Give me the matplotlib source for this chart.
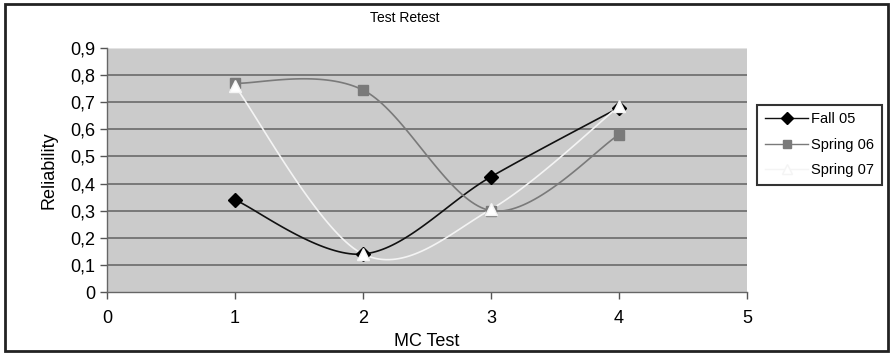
import numpy as np
import matplotlib
matplotlib.use("Agg")
import matplotlib.pyplot as plt
from matplotlib.patches import Rectangle

# ---- data ----
mc_test = [1, 2, 3, 4]
fall05 = [0.34, 0.14, 0.425, 0.68]
spring06 = [0.77, 0.745, 0.30, 0.58]
spring07 = [0.76, 0.14, 0.305, 0.685]
series_names = ["Fall 05", "Spring 06", "Spring 07"]
y_ticks = [0, 0.1, 0.2, 0.3, 0.4, 0.5, 0.6, 0.7, 0.8, 0.9]
x_ticks = [0, 1, 2, 3, 4, 5]

plt.rcParams['font.family'] = ['Liberation Sans', 'DejaVu Sans']


def smooth(xs, ys, n=40):
    """Excel-like smoothed line: cubic Bezier with Catmull-Rom control points."""
    P = np.column_stack([xs, ys]).astype(float)
    P = np.vstack([P[0], P, P[-1]])
    out = []
    for i in range(1, len(P) - 2):
        p0, p1, p2, p3 = P[i - 1], P[i], P[i + 1], P[i + 2]
        c1 = p1 + (p2 - p0) / 6.0
        c2 = p2 - (p3 - p1) / 6.0
        t = np.linspace(0, 1, n)[:, None]
        seg = ((1 - t) ** 3) * p1 + 3 * ((1 - t) ** 2) * t * c1 + 3 * (1 - t) * t ** 2 * c2 + t ** 3 * p2
        out.append(seg if i == 1 else seg[1:])
    out = np.vstack(out)
    return out[:, 0], out[:, 1]


fig = plt.figure(figsize=(8.9, 3.53), dpi=100)
fig.patch.set_facecolor("white")
fig.patches.append(Rectangle((0.006, 0.006), 0.992, 0.982, transform=fig.transFigure,
                             fill=False, edgecolor="#222222", linewidth=2.0))

ax = fig.add_axes([0.1202, 0.1728, 0.7191, 0.6912])
ax.set_facecolor("#cbcbcb")
ax.set_xlim(0, 5)
ax.set_ylim(0, 0.9)
for yv in y_ticks[1:-1]:
    ax.axhline(yv, color="#6a6a6a", linewidth=1.2, zorder=1)
ax.axhline(0.9, color="#e8e8e8", linewidth=1.2, zorder=1)

styles = [
    dict(color="#111111", marker="D", mfc="black", mec="black", ms=7, lw=1.2),
    dict(color="#7a7a7a", marker="s", mfc="#7a7a7a", mec="#7a7a7a", ms=7, lw=1.2),
    dict(color="#f4f4f4", marker="^", mfc="white", mec="#f4f4f4", ms=8, lw=1.2),
]
handles = []
for ys, name, st in zip([fall05, spring06, spring07], series_names, styles):
    sx, sy = smooth(mc_test, ys)
    ax.plot(sx, sy, color=st["color"], lw=st["lw"], zorder=3)
    ax.plot(mc_test, ys, linestyle="none", marker=st["marker"], mfc=st["mfc"],
            mec=st["mec"], ms=st["ms"], zorder=4)
    h, = ax.plot([], [], color=st["color"], lw=1.0, marker=st["marker"], mfc=st["mfc"],
                 mec=st["mec"], ms=st["ms"] - 1)
    handles.append(h)

ax.set_xticks(x_ticks)
ax.set_xticklabels([str(v) for v in x_ticks])
ax.set_yticks(y_ticks)
ax.set_yticklabels(["0" if v == 0 else f"{v:.1f}".replace(".", ",") for v in y_ticks])
ax.tick_params(axis="both", labelsize=13, color="#555555", length=5, width=1, direction="out")
ax.tick_params(axis="x", pad=8)
for s in ["top", "right"]:
    ax.spines[s].set_visible(False)
for s in ["left", "bottom"]:
    ax.spines[s].set_color("#666666")
    ax.spines[s].set_linewidth(1.0)

ax.set_xlabel("MC Test", fontsize=13, labelpad=4)
ax.set_ylabel("Reliability", fontsize=13, labelpad=9)
fig.text(0.455, 0.95, "Test Retest", ha="center", va="center", fontsize=10)

leg = fig.legend(handles, series_names, loc="upper left", bbox_to_anchor=(0.851, 0.703),
                 fontsize=10.5, frameon=True, fancybox=False, handlelength=3.0,
                 handletextpad=0.2, borderpad=0.5, labelspacing=0.8, borderaxespad=0)
leg.get_frame().set_edgecolor("black")
leg.get_frame().set_linewidth(1.5)

fig.savefig("out.png", dpi=100)
